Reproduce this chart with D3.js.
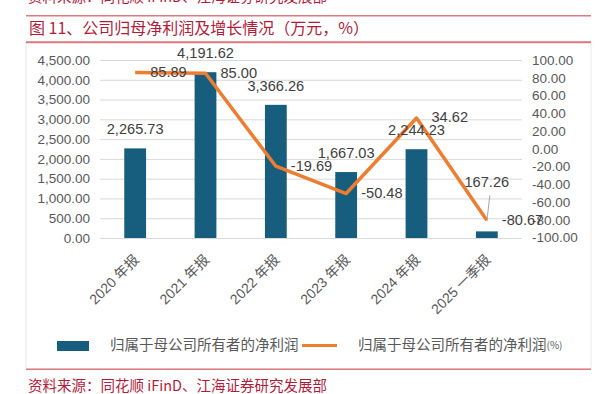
<!DOCTYPE html>
<html>
<head>
<meta charset="utf-8">
<script src="https://cdn.jsdelivr.net/npm/d3@7"></script>
<style>
  html, body { margin: 0; padding: 0; background: #fff; }
  svg { display: block; }
  text { font-family: "Liberation Sans", "Noto Sans CJK SC", sans-serif; }
</style>
</head>
<body>
<svg id="chart" width="602" height="394"></svg>
<script>
// Chart data
const categories = ['2020 年报', '2021 年报', '2022 年报', '2023 年报', '2024 年报', '2025 一季报'];
const netProfit = [2265.73, 4191.62, 3366.26, 1667.03, 2244.23, 167.26];
const growthRate = [85.89, 85.00, -19.69, -50.48, 34.62, -80.67];
const leftTicks = [0, 500, 1000, 1500, 2000, 2500, 3000, 3500, 4000, 4500];
const rightTicks = [-100, -80, -60, -40, -20, 0, 20, 40, 60, 80, 100];

const titleText = '图 11、公司归母净利润及增长情况（万元，%）';
const sourceText = '资料来源：同花顺 iFinD、江海证券研究发展部';
const legendBar = '归属于母公司所有者的净利润';
const legendLine = '归属于母公司所有者的净利润';

const barColor = '#175e7e';
const lineColor = '#ed7d31';
const redRule = '#dd7a7e';
const redText = '#b01c3a';

// Number formats with a plain hyphen for negatives, like the source
const fmtThousands = d => d3.format(',.2f')(d).replace('\u2212', '-');
const fmtFixed = d => d.toFixed(2);

const svg = d3.select('#chart');

// Frame: panel, red rules, title, source
svg.append('rect')
    .attr('x', 26).attr('y', 42)
    .attr('width', 565).attr('height', 327)
    .attr('fill', '#fff')
    .attr('stroke', '#e8e8e8');

svg.append('text')
    .attr('x', 28).attr('y', -2)
    .attr('dominant-baseline', 'middle')
    .attr('fill', redText)
    .style('font-family', '"Noto Sans CJK SC", sans-serif')
    .style('font-size', '14.5px')
    .text(sourceText);

[[15.7, 1.5], [42.3, 2], [369.3, 1.5]].forEach(([y, w]) => {
    svg.append('line')
        .attr('x1', 26).attr('x2', 591)
        .attr('y1', y).attr('y2', y)
        .attr('stroke', redRule)
        .attr('stroke-width', w);
});

svg.append('text')
    .attr('x', 29).attr('y', 29.5)
    .attr('dominant-baseline', 'middle')
    .attr('fill', redText)
    .style('font-family', '"Noto Sans CJK SC", sans-serif')
    .style('font-size', '16px')
    .text(titleText);

svg.append('text')
    .attr('x', 28).attr('y', 387.5)
    .attr('dominant-baseline', 'middle')
    .attr('fill', redText)
    .style('font-family', '"Noto Sans CJK SC", sans-serif')
    .style('font-size', '14.5px')
    .text(sourceText);

// Scales
const plot = {left: 100, right: 522, top: 60, bottom: 238};

const x = d3.scaleBand()
    .domain(categories)
    .range([plot.left, plot.right])
    .paddingInner(0.69)
    .paddingOuter(0.345);

const yLeft = d3.scaleLinear().domain([0, 4500]).range([plot.bottom, plot.top]);
const yRight = d3.scaleLinear().domain([-100, 100]).range([plot.bottom - 0.5, plot.top]);

const cx = d => x(d) + x.bandwidth() / 2;

// Left axis with gridlines
const leftAxis = svg.append('g')
    .attr('transform', `translate(${plot.left},0)`)
    .call(d3.axisLeft(yLeft)
        .tickValues(leftTicks)
        .tickFormat(fmtThousands)
        .tickSize(-(plot.right - plot.left))
        .tickPadding(10));
leftAxis.select('.domain').remove();
leftAxis.selectAll('line').attr('stroke', '#d9d9d9');
leftAxis.selectAll('text')
    .attr('fill', '#595959')
    .style('font-size', '13.5px');

// Right axis
const rightAxis = svg.append('g')
    .attr('transform', `translate(${plot.right},0)`)
    .call(d3.axisRight(yRight)
        .tickValues(rightTicks)
        .tickFormat(fmtFixed)
        .tickSize(0)
        .tickPadding(10));
rightAxis.select('.domain').remove();
rightAxis.selectAll('text')
    .attr('fill', '#595959')
    .style('font-size', '13.5px');

// Category labels, rotated
svg.append('g')
    .selectAll('text')
    .data(categories)
    .enter()
    .append('text')
    .attr('transform', d => `translate(${cx(d) + 2},258) rotate(-45)`)
    .attr('text-anchor', 'end')
    .attr('dominant-baseline', 'middle')
    .attr('fill', '#595959')
    .style('font-size', '14px')
    .text(d => d);

// Bars
svg.append('g')
    .selectAll('rect')
    .data(netProfit)
    .enter()
    .append('rect')
    .attr('x', (d, i) => x(categories[i]))
    .attr('y', d => yLeft(d))
    .attr('width', x.bandwidth())
    .attr('height', d => yLeft(0) - yLeft(d))
    .attr('fill', barColor);

// Growth line
const line = d3.line()
    .x((d, i) => cx(categories[i]))
    .y(d => yRight(d));

svg.append('path')
    .datum(growthRate)
    .attr('d', line)
    .attr('fill', 'none')
    .attr('stroke', lineColor)
    .attr('stroke-width', 3.5)
    .attr('stroke-linejoin', 'round');

// Bar labels (last one is lifted with a leader line)
const last = netProfit.length - 1;
const barLabelY = (d, i) => i === last ? yLeft(d) - 48 : yLeft(d) - 18;

svg.append('line')
    .attr('x1', cx(categories[last]) + 3)
    .attr('y1', barLabelY(netProfit[last], last) + 12)
    .attr('x2', cx(categories[last]))
    .attr('y2', yRight(growthRate[last]) + 1)
    .attr('stroke', '#a6a6a6')
    .attr('stroke-width', 1);

svg.append('g')
    .selectAll('text')
    .data(netProfit)
    .enter()
    .append('text')
    .attr('x', (d, i) => cx(categories[i]))
    .attr('y', barLabelY)
    .attr('text-anchor', 'middle')
    .attr('dominant-baseline', 'middle')
    .attr('fill', '#404040')
    .style('font-size', '14.6px')
    .text(fmtThousands);

// Line labels, to the right of each point
svg.append('g')
    .selectAll('text')
    .data(growthRate)
    .enter()
    .append('text')
    .attr('x', (d, i) => cx(categories[i]) + 15)
    .attr('y', d => yRight(d) + 0.5)
    .attr('dominant-baseline', 'middle')
    .attr('fill', '#404040')
    .style('font-size', '14.6px')
    .text(fmtFixed);

// Legend
const legend = svg.append('g');
legend.append('rect')
    .attr('x', 57).attr('y', 341)
    .attr('width', 32).attr('height', 10)
    .attr('fill', barColor);
legend.append('text')
    .attr('x', 110).attr('y', 346)
    .attr('dominant-baseline', 'middle')
    .attr('fill', '#595959')
    .style('font-family', '"Noto Sans CJK SC", sans-serif')
    .style('font-size', '14.5px')
    .text(legendBar);
legend.append('line')
    .attr('x1', 302).attr('x2', 337)
    .attr('y1', 345.5).attr('y2', 345.5)
    .attr('stroke', lineColor)
    .attr('stroke-width', 3);
const lt = legend.append('text')
    .attr('x', 358).attr('y', 346)
    .attr('dominant-baseline', 'middle')
    .attr('fill', '#595959')
    .style('font-family', '"Noto Sans CJK SC", sans-serif')
    .style('font-size', '14.5px');
lt.append('tspan').text(legendLine);
lt.append('tspan').style('font-size', '10px').text('(%)');
</script>
</body>
</html>
